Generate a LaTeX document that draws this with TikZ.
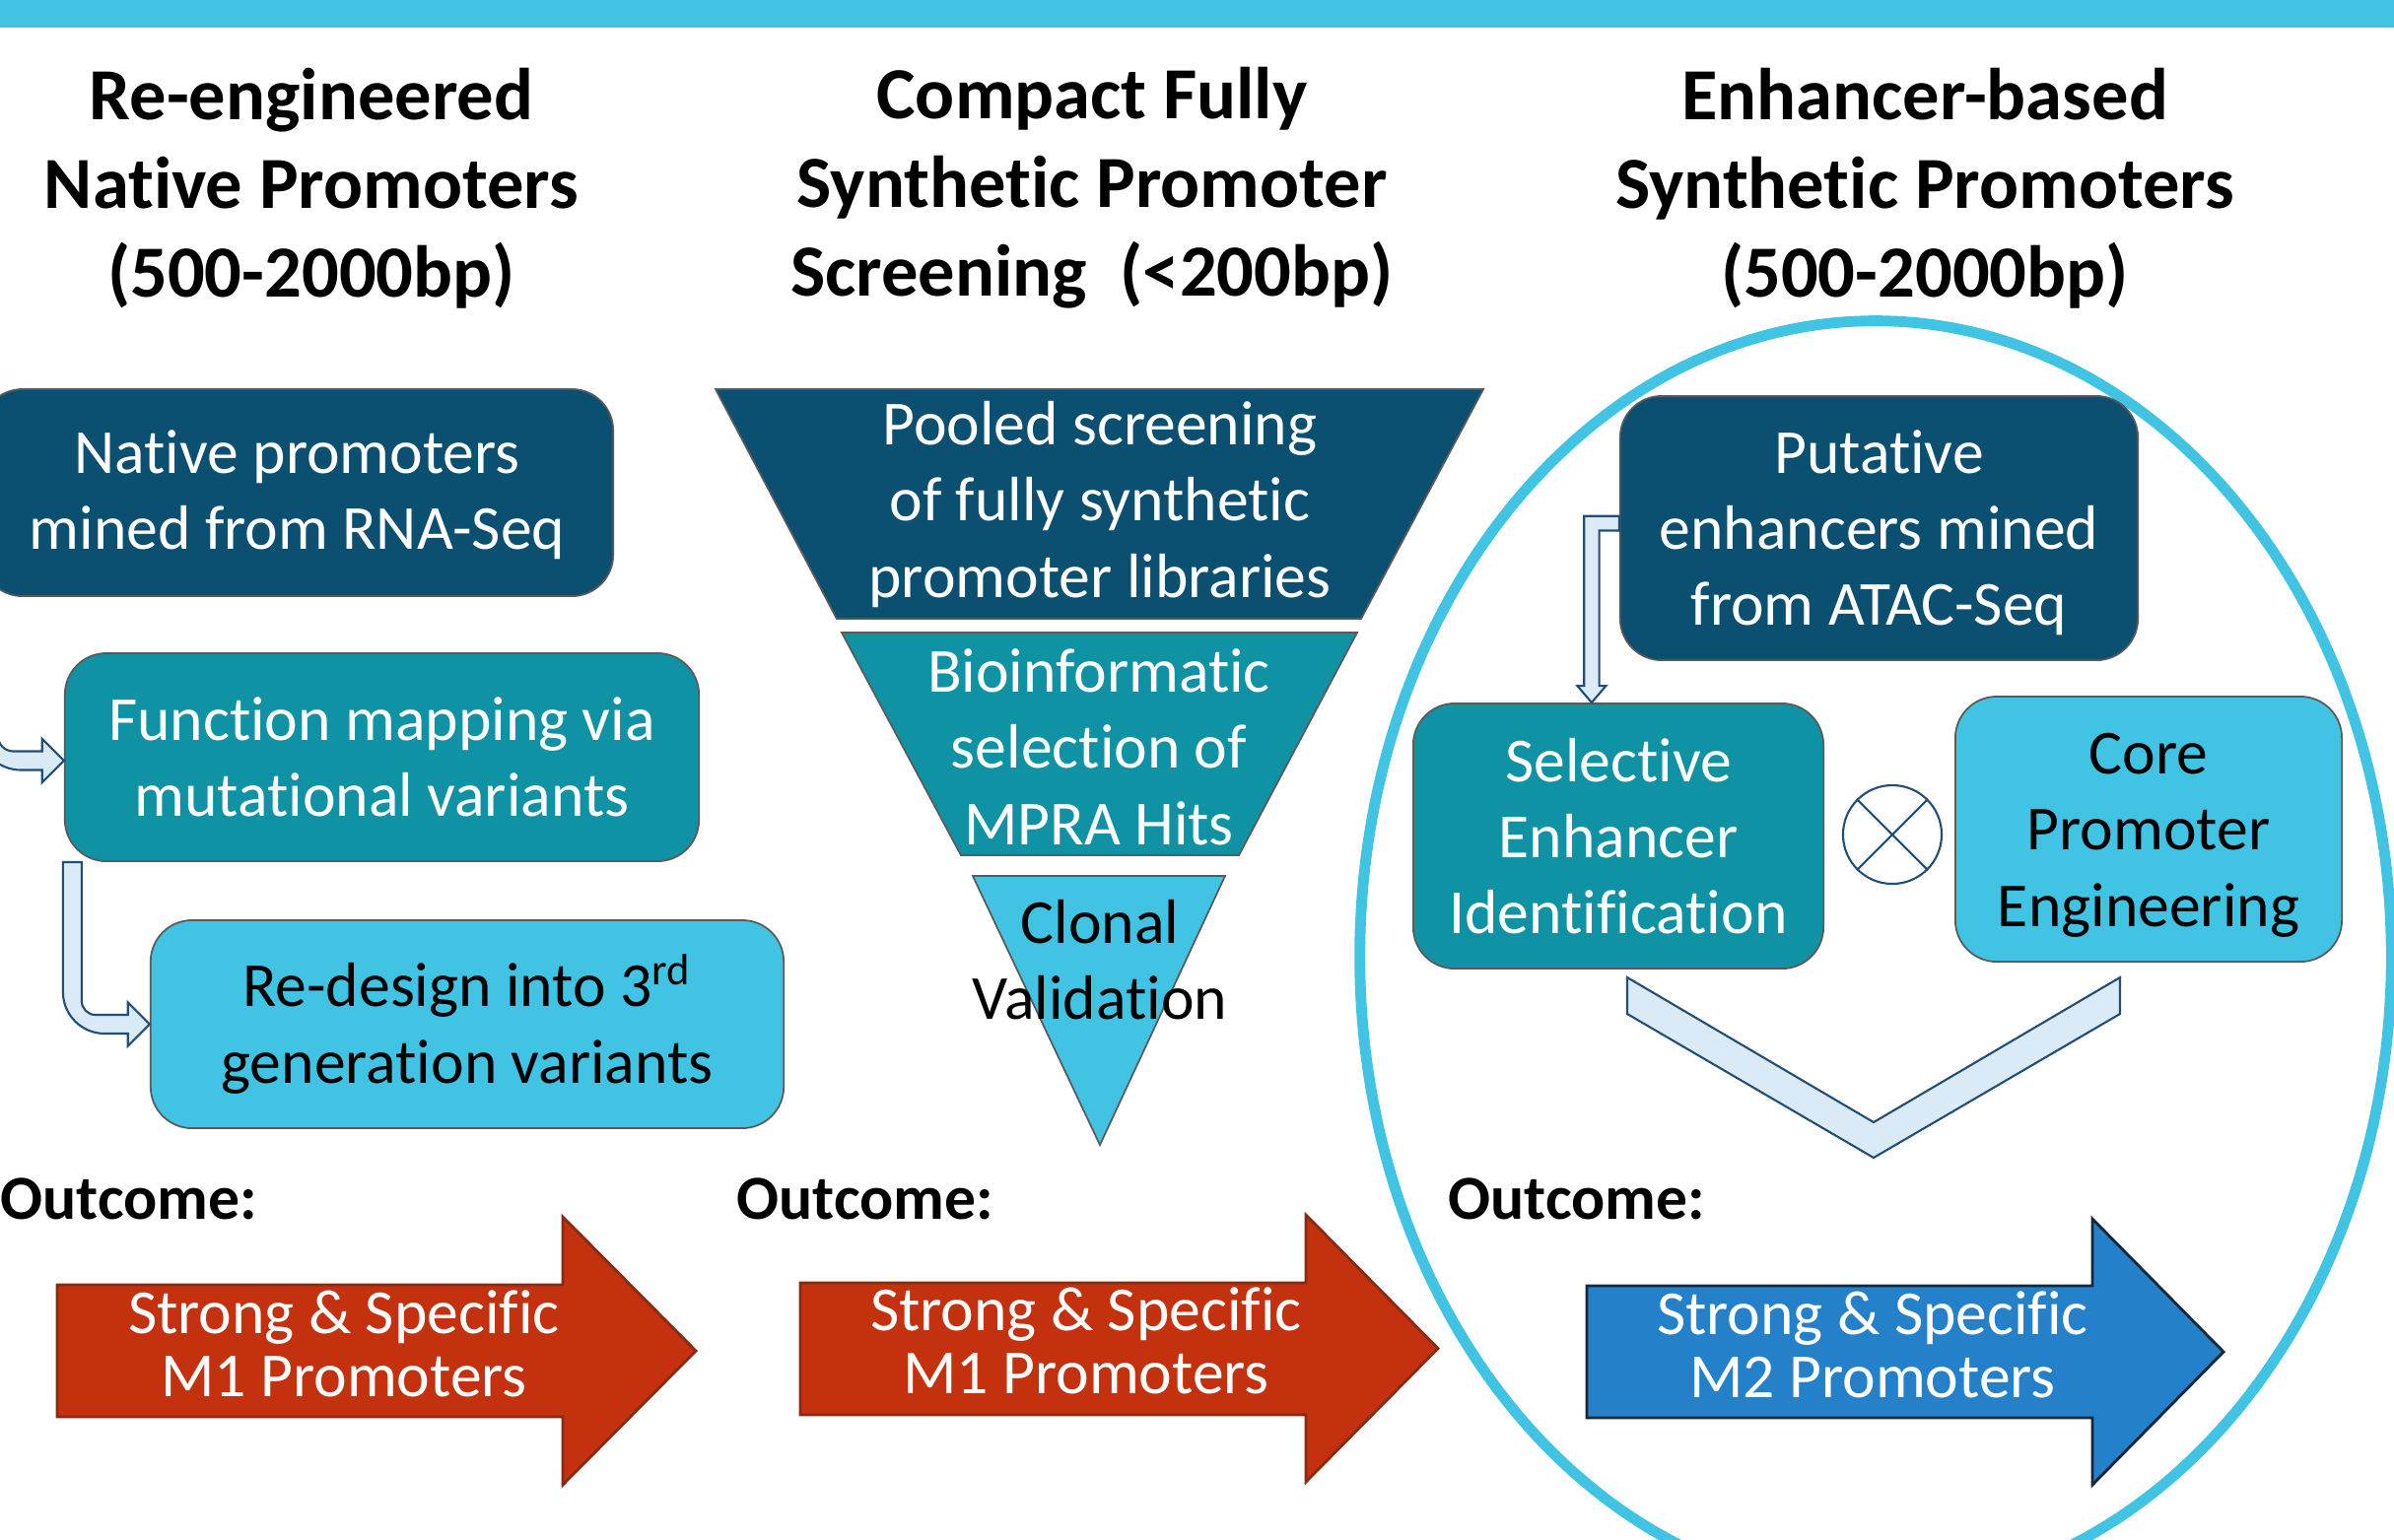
\documentclass[tikz,border=0pt]{standalone}
\usepackage{fontspec}
\setmainfont{Carlito}[Ligatures={NoCommon}]
\usetikzlibrary{calc}
\definecolor{lblue}{HTML}{41C4E4}
\definecolor{navyc}{HTML}{0B4F71}
\definecolor{tealc}{HTML}{1092A5}
\definecolor{pale}{HTML}{DAEAF7}
\definecolor{paleline}{HTML}{1F4E79}
\definecolor{redc}{HTML}{C3310F}
\definecolor{redline}{HTML}{8A2A10}
\definecolor{bluec}{HTML}{2480C9}
\definecolor{blueline}{HTML}{15283A}
\definecolor{boxline}{HTML}{5A5A5A}
\begin{document}
\begin{tikzpicture}[x=0.01cm,y=-0.01cm,
  every node/.style={inner sep=0pt, align=center},
  boxtxt/.style={font=\fontsize{18.1}{22}\selectfont},
  ttl/.style={font=\fontsize{21.2}{25.6}\selectfont\bfseries},
  rbox/.style={draw=boxline, line width=0.5pt, rounded corners=0.42cm, boxtxt},
  navybox/.style={rbox, fill=navyc, text=white},
  tealbox/.style={rbox, fill=tealc, text=white},
  lightbox/.style={rbox, fill=lblue, text=black},
  palearrow/.style={fill=pale, draw=paleline, line width=0.6pt},
  funnel/.style={draw=boxline, line width=0.5pt},
  outc/.style={font=\fontsize{18.1}{22}\selectfont\bfseries, anchor=west},
  arrtxt/.style={font=\fontsize{18.1}{18.3}\selectfont, text=white},
  redarrow/.style={fill=redc, draw=redline, line width=0.8pt},
  bluearrow/.style={fill=bluec, draw=blueline, line width=0.8pt},
]
\clip (0,0) rectangle (2429,1562);
\fill[white] (0,0) rectangle (2429,1562);
\fill[lblue] (0,0) rectangle (2429,28);

% ellipse
\draw[lblue, line width=3.1pt] (1903,971) ellipse [x radius=5.23cm, y radius=6.45cm];

% titles
\node[ttl] (t1) at (316,191) {Re-engineered\\Native Promoters\\(500-2000bp)};
\node[ttl] (t2) at (1108,191) {Compact Fully\\Synthetic Promoter\\Screening~~(\textless200bp)};
\node[ttl] (t3) at (1953,191) {Enhancer-based\\Synthetic Promoters\\(500-2000bp)};

% column 1 boxes
\node[navybox, minimum width=6.41cm, minimum height=2.10cm] (b1) at (301.5,500) {\rule{0pt}{13.8pt}Native promoters\\mined from RNA-Seq};
\node[tealbox, minimum width=6.43cm, minimum height=2.11cm] (b2) at (387.5,768.5) {Function mapping via\\mutational variants};
\node[lightbox, minimum width=6.42cm, minimum height=2.11cm] (b3) at (474,1039.5) {Re-design into 3\textsuperscript{rd}\\generation variants};

% bent arrows column 1
\path[palearrow] let \p1=(b1.south west), \p2=($(b2.west)+(0,3.5)$) in
 (\x1-0.3pt,\y1) -- (\x1-0.3pt,\y2-2.7pt+12pt)
 .. controls (\x1-0.3pt,\y2-2.7pt+5.4pt) and (\x1-0.3pt+5.4pt,\y2-2.7pt) .. (\x1-0.3pt+12pt,\y2-2.7pt)
 -- (\x2-6.3pt,\y2-2.7pt) -- (\x2-6.3pt,\y2-6.3pt) -- (\x2,\y2) -- (\x2-6.3pt,\y2+6.3pt) -- (\x2-6.3pt,\y2+2.7pt)
 -- (\x1+5.1pt+4.5pt,\y2+2.7pt) .. controls (\x1+5.1pt+2pt,\y2+2.7pt) and (\x1+5.1pt,\y2+2.7pt+2pt) .. (\x1+5.1pt,\y2+2.7pt+4.5pt)
 -- (\x1+5.1pt,\y1) -- cycle;
\path[palearrow] let \p1=(b2.south west), \p2=(b3.west) in
 (\x1-0.3pt,\y1) -- (\x1-0.3pt,\y2-2.7pt+12pt)
 .. controls (\x1-0.3pt,\y2-2.7pt+5.4pt) and (\x1-0.3pt+5.4pt,\y2-2.7pt) .. (\x1-0.3pt+12pt,\y2-2.7pt)
 -- (\x2-6.3pt,\y2-2.7pt) -- (\x2-6.3pt,\y2-6.3pt) -- (\x2,\y2) -- (\x2-6.3pt,\y2+6.3pt) -- (\x2-6.3pt,\y2+2.7pt)
 -- (\x1+5.1pt+4pt,\y2+2.7pt) .. controls (\x1+5.1pt+1.8pt,\y2+2.7pt) and (\x1+5.1pt,\y2+2.7pt+1.8pt) .. (\x1+5.1pt,\y2+2.7pt+4pt)
 -- (\x1+5.1pt,\y1) -- cycle;

% funnel
\path[funnel, fill=navyc] (726,395) -- (1505,395) -- (1381,628) -- (849,628) -- cycle;
\path[funnel, fill=tealc] (854,642) -- (1377,642) -- (1257,868) -- (975,868) -- cycle;
\path[funnel, fill=lblue] (987,889) -- (1243,889) -- (1116,1162) -- cycle;
\node[boxtxt, text=white] (f1) at (1116,512) {Pooled screening\\of fully synthetic\\promoter libraries};
\node[boxtxt, text=white] (f2) at (1115,758) {Bioinformatic\\selection of\\MPRA Hits};
\node[boxtxt, text=black] (f3) at (1116,974) {Clonal\\Validation};

% column 3
\node[navybox, minimum width=5.25cm, minimum height=2.68cm] (pu) at (1906.5,536) {\rule{0pt}{15.2pt}Putative\\enhancers mined\\from ATAC-Seq};
\node[tealbox, minimum width=4.16cm, minimum height=2.69cm] (se) at (1642,848.5) {Selective\\Enhancer\\Identification};
\node[lightbox, minimum width=3.92cm, minimum height=2.69cm] (co) at (2180,841.5) {\rule{0pt}{15.2pt}Core\\Promoter\\Engineering};
\node[circle, draw=paleline, line width=0.6pt, minimum size=1cm] (ot) at (1920,847) {};
\draw[paleline, line width=0.6pt] (ot.north west) -- (ot.south east) (ot.north east) -- (ot.south west);

\path[palearrow] let \p1=(pu.west), \p2=(se.north) in
 (\x1,\y1+1.4pt+2.1pt) -- (\x2-7.7pt-2.2pt,\y1+1.4pt+2.1pt) -- (\x2-7.7pt-2.2pt,\y2+4.8pt)
 -- (\x2-7.7pt-4.1pt,\y2+4.8pt) -- (\x2-7.7pt,\y2) -- (\x2-7.7pt+4.1pt,\y2+4.8pt)
 -- (\x2-7.7pt+2.2pt,\y2+4.8pt) -- (\x2-7.7pt+2.2pt,\y1+1.4pt-2.1pt) -- (\x1,\y1+1.4pt-2.1pt) -- cycle;

% chevron
\path[palearrow] (1651,992) -- (1901,1139) -- (2151,992) -- (2151,1029) -- (1901,1175) -- (1651,1029) -- cycle;

% outcomes
\node[outc] (o1) at (0,1217) {Outcome:};
\node[outc] (o2) at (747,1217) {Outcome:};
\node[outc] (o3) at (1469,1217) {Outcome:};

\path[redarrow] (58,1304) -- (571,1304) -- (571,1235) -- (706,1371) -- (571,1507) -- (571,1438) -- (58,1438) -- cycle;
\path[redarrow] (812,1302) -- (1325,1302) -- (1325,1233) -- (1459,1368.5) -- (1325,1504) -- (1325,1436) -- (812,1436) -- cycle;
\path[bluearrow] (1610,1305) -- (2123,1305) -- (2123,1237) -- (2256,1372) -- (2123,1507) -- (2123,1439) -- (1610,1439) -- cycle;
\node[arrtxt] (r1) at (349,1364) {Strong \& Specific\\M1 Promoters};
\node[arrtxt] (r2) at (1102,1361) {Strong \& Specific\\M1 Promoters};
\node[arrtxt] (r3) at (1900,1365) {Strong \& Specific\\M2 Promoters};
\end{tikzpicture}
\end{document}
